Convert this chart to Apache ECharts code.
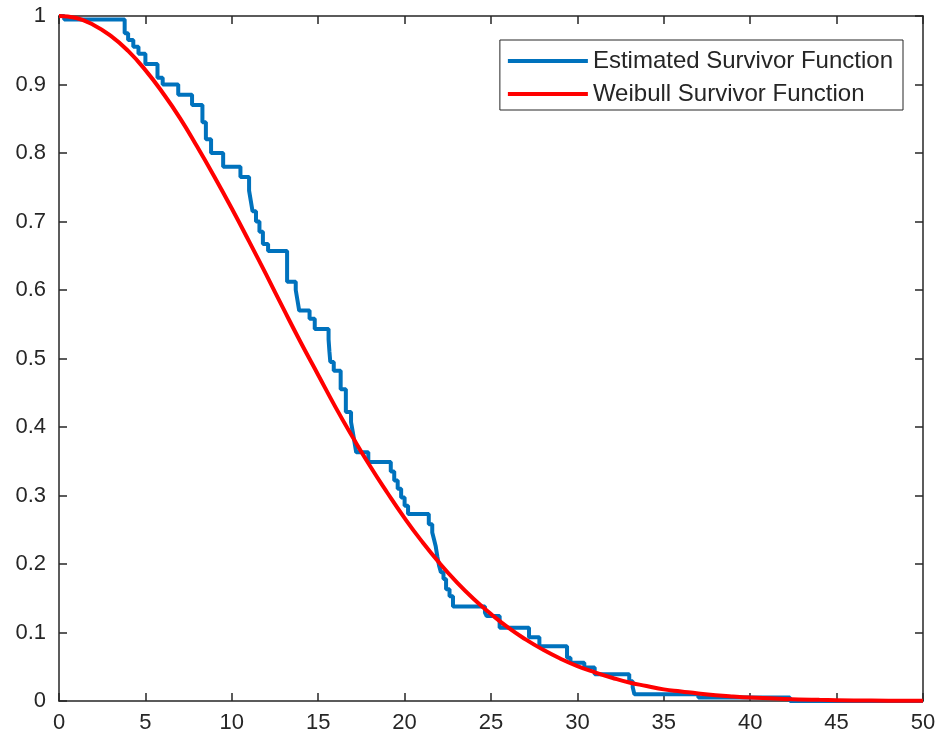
<!DOCTYPE html>
<html>
<head>
<meta charset="utf-8">
<script src="https://cdn.jsdelivr.net/npm/echarts@6/dist/echarts.min.js"></script>
<style>
html,body{margin:0;padding:0;background:#fff;}
#chart{width:942px;height:745px;}
</style>
</head>
<body>
<div id="chart"></div>
<script>
// Estimated (empirical) survivor function: [x, S(x)] step points
var estX = [0, 0.3, 3.8, 4.0, 4.3, 4.6, 5.0, 5.7, 6.0, 6.9, 7.7, 8.3, 8.5, 8.8, 9.5, 10.5, 11.0, 11.1, 11.2, 11.4, 11.6, 11.8, 12.1, 13.2, 13.7, 13.8, 13.9, 14.5, 14.8, 15.6, 15.65, 15.7, 15.9, 16.3, 16.6, 16.9, 17.0, 17.1, 17.2, 17.9, 19.2, 19.4, 19.6, 19.8, 20.0, 20.2, 21.4, 21.6, 21.7, 21.8, 21.9, 22.0, 22.1, 22.25, 22.4, 22.6, 22.8, 24.65, 24.75, 25.5, 27.2, 27.8, 29.4, 29.6, 30.4, 31.0, 33.0, 33.2, 33.3, 37.0, 42.3, 50];
var estY = [1.0, 0.995, 0.975, 0.965, 0.955, 0.945, 0.93, 0.91, 0.9, 0.885, 0.87, 0.845, 0.82, 0.80, 0.78, 0.765, 0.745, 0.73, 0.715, 0.70, 0.685, 0.667, 0.657, 0.612, 0.60, 0.585, 0.57, 0.558, 0.543, 0.528, 0.51, 0.495, 0.482, 0.455, 0.422, 0.407, 0.393, 0.378, 0.363, 0.349, 0.335, 0.322, 0.31, 0.297, 0.285, 0.273, 0.258, 0.246, 0.236, 0.226, 0.21, 0.197, 0.188, 0.178, 0.163, 0.153, 0.138, 0.129, 0.124, 0.107, 0.093, 0.08, 0.063, 0.056, 0.049, 0.039, 0.029, 0.02, 0.01, 0.005, 0, 0];

// Weibull survivor function
var wbX = [0, 1, 2, 3, 4, 5, 6, 7, 8, 9, 10, 11, 12, 13, 14, 15, 16, 17, 18, 19, 20, 21, 22, 23, 24, 25, 26, 27, 28, 29, 30, 31, 32, 33, 34, 35, 36, 37, 38, 39, 40, 42, 44, 46, 48, 50];
var wbY = [1, 0.997, 0.987, 0.971, 0.949, 0.921, 0.888, 0.851, 0.809, 0.765, 0.719, 0.671, 0.622, 0.572, 0.523, 0.476, 0.429, 0.385, 0.343, 0.304, 0.267, 0.233, 0.202, 0.174, 0.149, 0.127, 0.107, 0.090, 0.075, 0.062, 0.051, 0.042, 0.034, 0.027, 0.022, 0.017, 0.014, 0.011, 0.0085, 0.0066, 0.0051, 0.003, 0.0017, 0.0009, 0.0005, 0.0003];

var seriesNames = ['Estimated Survivor Function', 'Weibull Survivor Function'];
var xTicks = {min: 0, max: 50, interval: 5};
var yTicks = {min: 0, max: 1, interval: 0.1};

function zip(xs, ys) { return xs.map(function (x, i) { return [x, ys[i]]; }); }

var axisColor = '#262626';
var font = 'Liberation Sans, Arial, Helvetica, sans-serif';

var chart = echarts.init(document.getElementById('chart'), null, {renderer: 'canvas'});
chart.setOption({
  animation: false,
  backgroundColor: '#ffffff',
  grid: {left: 59, right: 19, top: 16, bottom: 44, containLabel: false},
  legend: {
    orient: 'vertical',
    right: 39,
    top: 40,
    padding: [9, 10, 4, 8],
    itemGap: 9,
    itemWidth: 80,
    itemHeight: 4,
    icon: 'rect',
    backgroundColor: '#ffffff',
    borderColor: axisColor,
    borderWidth: 1,
    borderRadius: 0,
    textStyle: {fontFamily: font, fontSize: 24, color: axisColor, lineHeight: 24},
    data: seriesNames
  },
  xAxis: [{
    type: 'value', min: xTicks.min, max: xTicks.max, interval: xTicks.interval,
    axisLine: {show: true, onZero: false, lineStyle: {color: axisColor, width: 1.5}},
    axisTick: {show: true, inside: true, length: 8, lineStyle: {color: axisColor, width: 1.5}},
    axisLabel: {show: true, margin: 11, fontFamily: font, fontSize: 22, color: axisColor},
    splitLine: {show: false}
  }, {
    type: 'value', position: 'top', min: xTicks.min, max: xTicks.max, interval: xTicks.interval,
    axisLine: {show: true, onZero: false, lineStyle: {color: axisColor, width: 1.5}},
    axisTick: {show: true, inside: true, length: 8, lineStyle: {color: axisColor, width: 1.5}},
    axisLabel: {show: false}, splitLine: {show: false}
  }],
  yAxis: [{
    type: 'value', min: yTicks.min, max: yTicks.max, interval: yTicks.interval,
    axisLine: {show: true, onZero: false, lineStyle: {color: axisColor, width: 1.5}},
    axisTick: {show: true, inside: true, length: 8, lineStyle: {color: axisColor, width: 1.5}},
    axisLabel: {show: true, margin: 13, fontFamily: font, fontSize: 22, color: axisColor,
      formatter: function (v) { return String(Math.round(v * 10) / 10); }},
    splitLine: {show: false}
  }, {
    type: 'value', position: 'right', min: yTicks.min, max: yTicks.max, interval: yTicks.interval,
    axisLine: {show: true, onZero: false, lineStyle: {color: axisColor, width: 1.5}},
    axisTick: {show: true, inside: true, length: 8, lineStyle: {color: axisColor, width: 1.5}},
    axisLabel: {show: false}, splitLine: {show: false}
  }],
  series: [{
    name: seriesNames[0],
    type: 'line',
    step: 'end',
    data: zip(estX, estY),
    showSymbol: false,
    symbol: 'none',
    color: '#0072BD',
    lineStyle: {color: '#0072BD', width: 4},
    clip: true,
    z: 2
  }, {
    name: seriesNames[1],
    type: 'line',
    smooth: true,
    data: zip(wbX, wbY),
    showSymbol: false,
    symbol: 'none',
    color: '#FF0000',
    lineStyle: {color: '#FF0000', width: 4},
    clip: true,
    z: 3
  }]
});
</script>
</body>
</html>
